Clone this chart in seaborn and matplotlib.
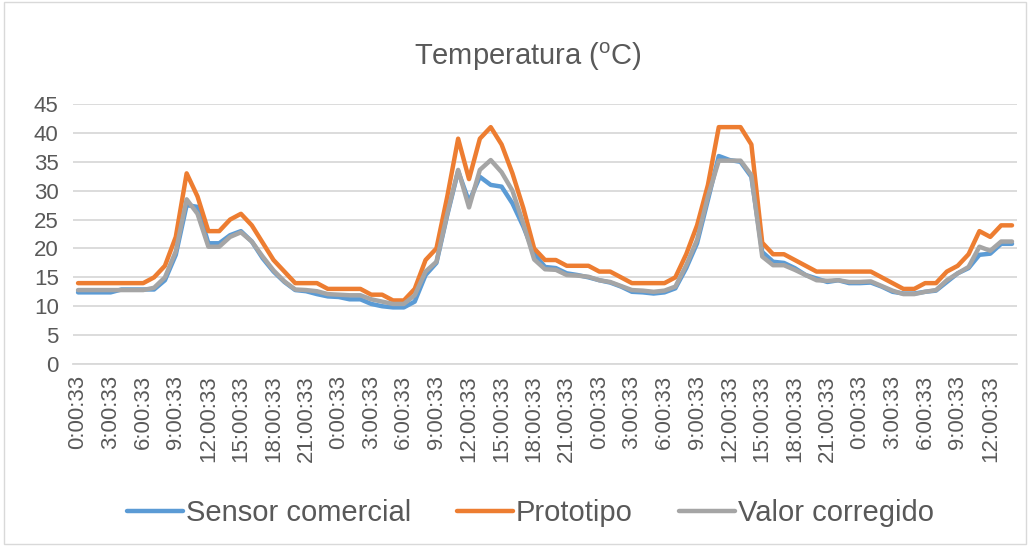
import matplotlib
matplotlib.use("Agg")
import matplotlib.pyplot as plt
from matplotlib.lines import Line2D
from matplotlib.patches import Rectangle
import numpy as np
import pandas as pd
import seaborn as sns

# ---- data (hourly readings, 87 points) ----
times = [f"{h % 24}:00:33" for h in range(87)]

sensor_comercial = [
    12.4, 12.4, 12.4, 12.4, 12.9, 12.9, 12.9, 12.9, 14.5, 18.9,
    27.5, 27.2, 20.9, 20.9, 22.3, 23.0, 21.2, 18.3, 16.0, 14.2,
    12.8, 12.6, 12.1, 11.7, 11.6, 11.2, 11.2, 10.4, 10.0, 9.8,
    9.8, 10.8, 15.4, 17.5, 25.8, 33.4, 28.1, 32.4, 31.0, 30.7,
    27.8, 23.8, 19.1, 16.8, 16.6, 15.7, 15.4, 15.0, 14.5, 14.1,
    13.4, 12.5, 12.4, 12.2, 12.4, 13.1, 16.6, 20.9, 28.4, 36.0,
    35.3, 35.0, 32.4, 19.4, 17.7, 17.5, 16.6, 15.4, 14.8, 14.2,
    14.5, 14.0, 14.0, 14.1, 13.4, 12.5, 12.2, 12.2, 12.5, 12.7,
    14.2, 15.7, 16.6, 18.9, 19.1, 20.8, 20.8,
]

prototipo = [
    14, 14, 14, 14, 14, 14, 14, 15, 17, 22,
    33, 29, 23, 23, 25, 26, 24, 21, 18, 16,
    14, 14, 14, 13, 13, 13, 13, 12, 12, 11,
    11, 13, 18, 20, 29, 39, 32, 39, 41, 38,
    33, 27, 20, 18, 18, 17, 17, 17, 16, 16,
    15, 14, 14, 14, 14, 15, 19, 24, 31, 41,
    41, 41, 38, 21, 19, 19, 18, 17, 16, 16,
    16, 16, 16, 16, 15, 14, 13, 13, 14, 14,
    16, 17, 19, 23, 22, 24, 24,
]

valor_corregido = [
    12.8, 12.8, 12.8, 12.8, 12.8, 12.8, 12.8, 13.2, 15.0, 19.5,
    28.5, 26.0, 20.3, 20.3, 22.0, 22.8, 21.2, 18.6, 16.2, 14.3,
    12.9, 12.8, 12.6, 12.1, 12.0, 11.9, 11.9, 11.2, 10.8, 10.4,
    10.4, 11.9, 16.0, 17.7, 26.0, 33.6, 27.1, 33.6, 35.3, 33.2,
    30.0, 24.3, 18.1, 16.4, 16.3, 15.4, 15.3, 15.1, 14.5, 14.2,
    13.5, 12.8, 12.7, 12.5, 12.7, 13.4, 17.1, 21.5, 29.0, 35.2,
    35.2, 35.2, 32.7, 18.6, 17.1, 17.1, 16.3, 15.4, 14.5, 14.4,
    14.5, 14.2, 14.2, 14.3, 13.5, 12.7, 12.1, 12.1, 12.5, 12.8,
    14.5, 15.7, 16.8, 20.3, 19.6, 21.2, 21.2,
]

series_names = ["Sensor comercial", "Prototipo", "Valor corregido"]
colors = ["#5B9BD5", "#ED7D31", "#A5A5A5"]
y_ticks = [0, 5, 10, 15, 20, 25, 30, 35, 40, 45]

# ---- build long table ----
wide = pd.DataFrame({
    "idx": np.arange(len(times)),
    series_names[0]: sensor_comercial,
    series_names[1]: prototipo,
    series_names[2]: valor_corregido,
})
df = wide.melt(id_vars="idx", var_name="serie", value_name="valor")

sns.set_theme(style="white")
plt.rcParams["font.family"] = ["Liberation Sans", "DejaVu Sans"]
text_color = "#595959"
grid_color = "#D9D9D9"

fig = plt.figure(figsize=(10.3, 5.46), dpi=100)
ax = fig.add_axes([0.0705, 0.3333, 0.9173, 0.4762])

sns.lineplot(
    data=df, x="idx", y="valor", hue="serie",
    hue_order=series_names, palette=colors,
    linewidth=3.2, legend=False, ax=ax, sort=False,
)
for ln in ax.get_lines():
    ln.set_solid_joinstyle("round")
    ln.set_solid_capstyle("round")

ax.set_xlim(-0.5, len(times) - 0.5)
ax.set_ylim(0, 45)
ax.set_yticks(y_ticks)
ax.set_yticklabels([str(v) for v in y_ticks], fontsize=16, color=text_color)
ax.set_xticks(np.arange(0, len(times), 3))
ax.set_xticklabels(times[::3], rotation=90, fontsize=16, color=text_color)
ax.tick_params(axis="both", length=0)
ax.tick_params(axis="x", pad=8)
ax.tick_params(axis="y", pad=10)
ax.set_xlabel("")
ax.set_ylabel("")

ax.yaxis.grid(True, color=grid_color, linewidth=1.3)
ax.set_axisbelow(True)
for side in ["top", "right", "left"]:
    ax.spines[side].set_visible(False)
ax.spines["bottom"].set_color(grid_color)
ax.spines["bottom"].set_linewidth(1.3)

fig.text(0.5126, 0.8956, r"Temperatura ($\mathregular{^{o}}$C)",
         ha="center", va="center", fontsize=21, color=text_color)

handles = [Line2D([0], [0], color=c, linewidth=3.2) for c in colors]
fig.legend(handles, series_names, loc="center", bbox_to_anchor=(0.515, 1 - 513 / 546),
           ncol=3, frameon=False, fontsize=21, handlelength=1.9,
           handletextpad=0.1, columnspacing=1.6, labelcolor=text_color)

fig.patches.append(Rectangle((0.004, 0.004), 0.992, 0.992, transform=fig.transFigure,
                             fill=False, edgecolor=grid_color, linewidth=1))

fig.savefig("out.png", dpi=100, facecolor="white")
